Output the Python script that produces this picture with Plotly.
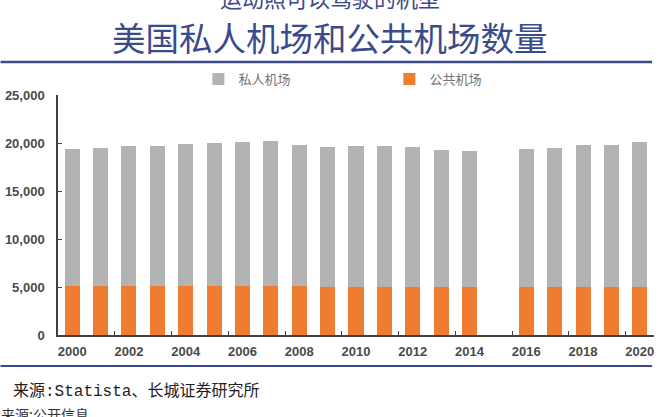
import plotly.graph_objects as go

years = [str(y) for y in range(2000, 2021)]
public_airports = [5130, 5130, 5130, 5130, 5130, 5130, 5130, 5100, 5080, 5050,
                   5020, 5020, 5020, 5020, 5020, None, 5020, 5000, 5010, 5010, 5030]
private_airports = [14290, 14350, 14560, 14560, 14805, 14860, 14970, 15110, 14710, 14570,
                    14640, 14640, 14530, 14290, 14120, None, 14360, 14520, 14750, 14750, 15040]
y_ticks = [0, 5000, 10000, 15000, 20000, 25000]
y_tick_text = ["0", "5,000", "10,000", "15,000", "20,000", "25,000"]

title_text = "美国私人机场和公共机场数量"
top_cut_text = "运动照可以驾驶的机型"
source_text = "来源:Statista、长城证券研究所"
bottom_cut_text = "来源:公开信息"

W, H = 660, 417
L, R, T, B = 57.5, 6.1, 95, 82
pw = W - L - R
ph = H - T - B


def px_x(x):
    return (x - L) / pw


def px_y(y):
    return (H - B - y) / ph


fig = go.Figure()
fig.add_trace(go.Bar(x=years, y=public_airports, name="公共机场",
                     marker=dict(color="#ef7d31", line=dict(width=0))))
fig.add_trace(go.Bar(x=years, y=private_airports, name="私人机场",
                     marker=dict(color="#b3b3b3", line=dict(width=0))))

axis_font = dict(family="Liberation Sans, Arial, sans-serif", size=13, color="#4a4a4a", weight="bold")

fig.update_layout(
    width=W, height=H,
    margin=dict(l=L, r=R, t=T, b=B, pad=0, autoexpand=False),
    paper_bgcolor="white", plot_bgcolor="white",
    barmode="stack", bargap=0.47,
    showlegend=True,
    legend=dict(orientation="h", traceorder="reversed", x=px_x(198), y=px_y(79),
                xanchor="left", yanchor="middle", entrywidth=146, entrywidthmode="pixels",
                font=dict(family="Noto Sans CJK SC", size=13, color="#747474"),
                bgcolor="rgba(0,0,0,0)"),
    xaxis=dict(type="category", categoryorder="array", categoryarray=years,
               tickmode="linear", tick0=0, dtick=2, tickson="boundaries",
               ticks="inside", ticklen=4, tickwidth=1.2, tickcolor="#404040",
               showline=True, linecolor="#404040", linewidth=1.5,
               showgrid=False, zeroline=False, tickfont=axis_font,
               tickangle=0, automargin=False,
               range=[-0.5, 20.5], ticklabelstandoff=4),
    yaxis=dict(range=[0, 25000], tickmode="array", tickvals=y_ticks, ticktext=y_tick_text,
               ticks="inside", ticklen=4, tickwidth=1.2, tickcolor="#404040",
               showline=True, linecolor="#404040", linewidth=1.5,
               showgrid=False, zeroline=False, tickfont=axis_font, automargin=False,
               ticklabelstandoff=9),
    font=dict(family="Noto Sans CJK SC"),
)

fig.add_annotation(text=top_cut_text, xref="paper", yref="paper",
                   x=px_x(330), y=px_y(-3), xanchor="center", yanchor="middle",
                   showarrow=False, font=dict(family="Noto Sans CJK SC", size=22, color="#3b4a8a"))
fig.add_annotation(text=title_text, xref="paper", yref="paper",
                   x=px_x(330), y=px_y(37), xanchor="center", yanchor="middle",
                   showarrow=False, font=dict(family="Noto Sans CJK SC", size=33.5, color="#3b4a8a"))
fig.add_annotation(text=source_text, xref="paper", yref="paper",
                   x=px_x(10), y=px_y(391), xanchor="left", yanchor="middle",
                   showarrow=False, font=dict(family="Liberation Mono, Noto Sans CJK SC", size=16, color="#222222"))
fig.add_annotation(text=bottom_cut_text, xref="paper", yref="paper",
                   x=px_x(-2), y=px_y(414), xanchor="left", yanchor="middle",
                   showarrow=False, font=dict(family="Noto Sans CJK SC", size=14, color="#333333"))

fig.add_shape(type="line", xref="paper", yref="paper",
              x0=px_x(0), x1=px_x(652), y0=px_y(62), y1=px_y(62),
              line=dict(color="#3b4a8a", width=2.5))
fig.add_shape(type="line", xref="paper", yref="paper",
              x0=px_x(0), x1=px_x(652), y0=px_y(366), y1=px_y(366),
              line=dict(color="#3b4a8a", width=2))

fig.write_html("out.html", config={"displayModeBar": False},
               post_script="document.body.style.margin='0';document.body.style.overflow='hidden';")
